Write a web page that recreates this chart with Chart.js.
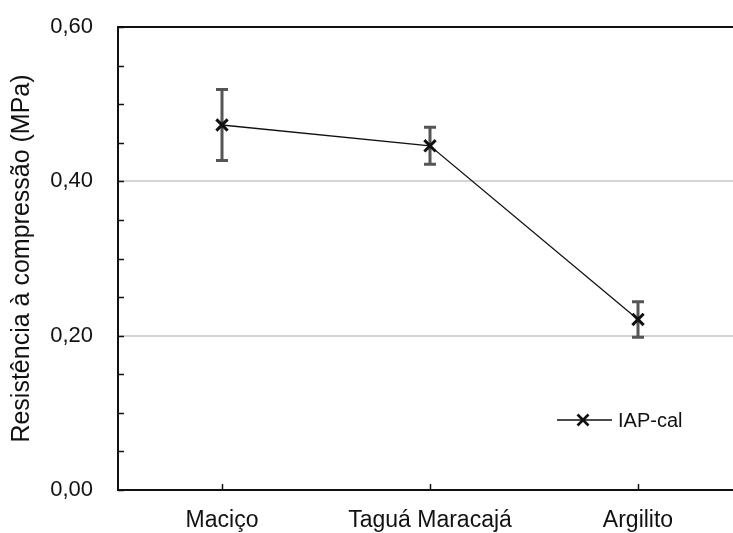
<!DOCTYPE html>
<html>
<head>
<meta charset="utf-8">
<script src="https://cdn.jsdelivr.net/npm/chart.js@4/dist/chart.umd.min.js"></script>
<style>
  html, body { margin: 0; padding: 0; background: #fff; overflow: hidden; }
  #wrap { width: 733px; height: 533px; overflow: hidden; }
  canvas { display: block; }
</style>
</head>
<body>
<div id="wrap"><canvas id="c" width="760" height="533"></canvas></div>
<script>
// Compressive strength of IAP-cal mortar for each substrate
const categories = ['Maciço', 'Taguá Maracajá', 'Argilito'];
const resistencia = [0.473, 0.446, 0.221];   // mean (MPa)
const desvio = [0.046, 0.024, 0.023];        // standard deviation (MPa)
const labeledTicks = [0, 0.2, 0.4, 0.6];     // ticks that carry a label / grid line
const seriesName = 'IAP-cal';

const FONT = '"Liberation Sans", Arial, sans-serif';
const isLabeled = v => labeledTicks.some(t => Math.abs(t - v) < 1e-6);
const fmt = v => v.toFixed(2).replace('.', ',');

// error bars, inward ticks, top border and in-plot legend
const extras = {
  id: 'extras',
  beforeDatasetsDraw(chart) {
    const ctx = chart.ctx;
    const x = chart.scales.x, y = chart.scales.y;
    ctx.save();
    ctx.strokeStyle = '#555';
    ctx.lineWidth = 3;
    resistencia.forEach((v, i) => {
      const px = x.getPixelForValue(i);
      const top = y.getPixelForValue(v + desvio[i]);
      const bot = y.getPixelForValue(v - desvio[i]);
      ctx.beginPath();
      ctx.moveTo(px, top); ctx.lineTo(px, bot);
      ctx.moveTo(px - 6, top); ctx.lineTo(px + 6, top);
      ctx.moveTo(px - 6, bot); ctx.lineTo(px + 6, bot);
      ctx.stroke();
    });
    ctx.restore();
  },
  afterDraw(chart) {
    const ctx = chart.ctx;
    const a = chart.chartArea;
    const x = chart.scales.x, y = chart.scales.y;
    ctx.save();
    ctx.strokeStyle = '#111';
    ctx.lineWidth = 2;
    // top border
    ctx.beginPath();
    ctx.moveTo(a.left - 1, a.top); ctx.lineTo(a.right, a.top);
    ctx.stroke();
    // inward ticks
    ctx.lineWidth = 1.5;
    ctx.beginPath();
    y.ticks.forEach(t => {
      const py = Math.round(y.getPixelForValue(t.value)) + 0.5;
      ctx.moveTo(a.left, py); ctx.lineTo(a.left + 6, py);
    });
    categories.forEach((c, i) => {
      const px = Math.round(x.getPixelForValue(i)) + 0.5;
      ctx.moveTo(px, a.bottom); ctx.lineTo(px, a.bottom - 6);
    });
    ctx.stroke();

    // legend
    const lx = a.left + 439, ly = a.top + 393;
    ctx.strokeStyle = '#111';
    ctx.lineWidth = 1.3;
    ctx.beginPath();
    ctx.moveTo(lx, ly); ctx.lineTo(lx + 55, ly);
    ctx.stroke();
    ctx.lineWidth = 2.6;
    const cx = lx + 26, r = 5.5;
    ctx.beginPath();
    ctx.moveTo(cx - r, ly - r); ctx.lineTo(cx + r, ly + r);
    ctx.moveTo(cx - r, ly + r); ctx.lineTo(cx + r, ly - r);
    ctx.stroke();
    ctx.fillStyle = '#111';
    ctx.font = '20px ' + FONT;
    ctx.textBaseline = 'middle';
    ctx.textAlign = 'left';
    ctx.fillText(seriesName, lx + 61, ly + 1);
    ctx.restore();
  }
};

new Chart(document.getElementById('c'), {
  type: 'line',
  data: {
    labels: categories,
    datasets: [{
      label: seriesName,
      data: resistencia,
      borderColor: '#111',
      borderWidth: 1.3,
      pointStyle: 'crossRot',
      pointRadius: 8,
      pointBorderWidth: 3,
      pointBorderColor: '#111',
      pointBackgroundColor: '#111',
      tension: 0,
      fill: false
    }]
  },
  options: {
    responsive: false,
    animation: false,
    events: [],
    layout: { padding: { top: 27, right: 18, left: 0, bottom: 0 } },
    plugins: { legend: { display: false }, tooltip: { enabled: false } },
    scales: {
      x: {
        type: 'category',
        offset: true,
        grid: { display: false, drawTicks: false },
        border: { display: true, color: '#111', width: 2 },
        ticks: { color: '#111', padding: 17, font: { family: FONT, size: 23 }, maxRotation: 0, autoSkip: false },
        afterFit(s) { s.height = 43; s.paddingLeft = 0; s.paddingRight = 0; }
      },
      y: {
        min: 0, max: 0.6,
        grid: {
          drawTicks: false,
          color: ctx => (ctx.tick && isLabeled(ctx.tick.value) && ctx.tick.value > 0 && ctx.tick.value < 0.6) ? '#d4d4d4' : 'rgba(0,0,0,0)',
          lineWidth: 2
        },
        border: { display: true, color: '#111', width: 2 },
        ticks: {
          stepSize: 0.05,
          autoSkip: false,
          color: '#111',
          padding: 25,
          font: { family: FONT, size: 22 },
          callback: v => isLabeled(v) ? fmt(v) : ''
        },
        title: {
          display: true,
          text: 'Resistência à compressão (MPa)',
          color: '#111',
          font: { family: FONT, size: 25 },
          padding: { top: 7, bottom: 0 }
        },
        afterFit(s) { s.width = 118; s.paddingTop = 0; s.paddingBottom = 0; }
      }
    }
  },
  plugins: [extras]
});
</script>
</body>
</html>
